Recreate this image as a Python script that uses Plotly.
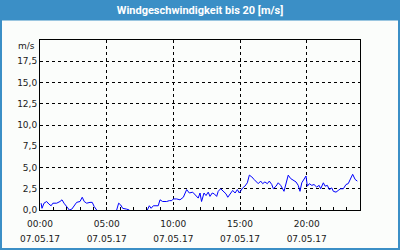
import plotly.graph_objects as go

# ---- data ----
times = ["00:05","00:09","00:18","00:30","00:40","00:50","00:58","01:15","01:30","01:39","01:48","02:00",
         "02:12","02:23","02:34","02:45","03:00","03:10","03:19","03:30","03:45","03:55","04:04","04:15",
         "05:00",
         "05:45","05:54","06:03","06:12","06:30","06:42",
         "07:20",
         "08:03","08:12","08:20","08:30","08:52","09:00","09:12","09:30","09:42","09:53","10:00","10:15",
         "10:30","10:45","11:00","11:12","11:27","11:42","11:52","12:00","12:07","12:18","12:27","12:37",
         "12:45","12:55","13:04","13:15","13:22","13:33","13:45","13:57","14:05","14:15","14:27","14:38",
         "14:48","14:57","15:03","15:12","15:22","15:33","15:42","15:53","16:03","16:12","16:22","16:33",
         "16:42","16:52","17:03","17:12","17:23","17:30","17:42","17:52","18:03","18:18","18:27","18:37",
         "18:48","19:00","19:12","19:22","19:30","19:38","19:48","19:57","20:03","20:12","20:23","20:33",
         "20:45","20:56","21:03","21:15","21:23","21:33","21:42","21:53","22:00","22:12","22:22","22:33",
         "22:45","22:57","23:07","23:18","23:27","23:38","23:48"]
speed = [0.8,0.2,0.8,1.0,0.7,0.5,0.8,0.8,1.0,1.2,0.8,0.4,
         0.0,0.1,0.5,0.9,1.0,1.5,1.0,0.8,0.9,0.9,0.4,0.0,
         None,
         0.0,0.8,0.6,0.2,0.1,0.0,
         None,
         0.0,0.5,0.2,0.5,0.5,1.2,1.0,1.0,1.1,1.1,1.3,1.3,
         1.2,1.5,2.4,2.0,2.1,1.7,1.4,2.0,1.0,2.0,1.7,2.1,
         1.6,2.0,1.9,1.6,2.2,2.5,2.2,1.9,1.5,1.9,2.3,2.0,
         2.4,2.0,2.3,2.6,2.8,3.2,4.1,3.9,3.6,3.4,3.1,3.4,
         3.1,3.3,3.1,3.4,3.0,2.5,2.8,3.2,2.9,2.2,3.0,4.1,
         3.7,3.5,3.3,2.9,2.2,3.2,3.7,4.0,2.8,3.1,2.9,3.0,
         2.7,2.9,2.5,3.2,2.8,2.9,2.4,2.6,2.2,2.1,2.3,2.5,
         2.5,3.0,3.1,3.7,4.2,3.6,3.4]
day = "2017-05-07"
y_ticks = [0, 2.5, 5, 7.5, 10, 12.5, 15, 17.5]
title_text = "Windgeschwindigkeit bis 20 [m/s]"
unit_text = "m/s"

x = [f"{day} {t}" for t in times]

BLUE = "#3b8fc6"
BG = "#fbfdfb"
W, H = 400, 250
L, R, T, B = 40, 40, 40, 40
pw, ph = W - L - R, H - T - B

def px(xp):
    return (xp - L) / pw

def py(yp):
    return (H - B - yp) / ph

fig = go.Figure()
fig.add_trace(go.Scatter(x=x, y=speed, mode="lines", line=dict(color="#0000ff", width=1),
                         connectgaps=False, hoverinfo="skip", showlegend=False))
# second axis only for the date line of the tick labels
fig.add_trace(go.Scatter(x=[f"{day} 00:00"], y=[None], xaxis="x2", showlegend=False, hoverinfo="skip"))

tickfont = dict(family="DejaVu Sans", size=9, color="#1a1a1a")

fig.update_layout(
    width=W, height=H,
    margin=dict(l=L, r=R, t=T, b=B, pad=0, autoexpand=False),
    paper_bgcolor=BG, plot_bgcolor=BG,
    separators=",.",
    showlegend=False,
    title=dict(text="<b>" + title_text + "</b>", x=0.5, xref="container", xanchor="center",
               y=1 - 10.5 / H, yref="container", yanchor="middle",
               font=dict(family="Roboto, DejaVu Sans", size=11, color="white")),
    xaxis=dict(type="date", range=[f"{day} 00:00", "2017-05-08 00:00"],
               tick0=f"{day} 00:00", dtick=5 * 3600000, tickformat="%H:%M",
               showgrid=True, gridcolor="black", gridwidth=1, griddash="3px,3px",
               showline=True, linecolor="black", linewidth=1, mirror=True,
               ticks="inside", ticklen=3, tickcolor="black", tickwidth=1,
               minor=dict(dtick=3600000, tick0=f"{day} 00:00", ticks="inside", ticklen=3,
                          tickcolor="black", showgrid=False),
               ticklabelstandoff=5,
               tickfont=tickfont, zeroline=False, fixedrange=True, automargin=False),
    xaxis2=dict(type="date", overlaying="x", side="bottom", anchor="y",
                range=[f"{day} 00:00", "2017-05-08 00:00"],
                tick0=f"{day} 00:00", dtick=5 * 3600000, tickformat="%d.%m.%y",
                showgrid=False, showline=False, ticks="", ticklabelstandoff=22,
                tickfont=tickfont, zeroline=False, fixedrange=True, automargin=False),
    yaxis=dict(range=[0, 20], tickvals=y_ticks, tickformat=".1f",
               showgrid=True, gridcolor="black", gridwidth=1, griddash="3px,3px",
               showline=True, linecolor="black", linewidth=1, mirror=True,
               ticks="", tickfont=tickfont, zeroline=False, fixedrange=True, automargin=False),
    shapes=[
        dict(type="rect", xref="paper", yref="paper", x0=px(0), x1=px(W), y0=py(20.5), y1=py(0),
             fillcolor=BLUE, line=dict(width=0), layer="below"),
        dict(type="rect", xref="paper", yref="paper", x0=px(1), x1=px(W - 1), y0=py(H - 1), y1=py(1),
             fillcolor="rgba(0,0,0,0)", line=dict(color=BLUE, width=2)),
    ],
    annotations=[
        dict(text=unit_text, xref="paper", yref="y", x=0, y=20, xanchor="right", yanchor="top",
             xshift=-3, yshift=1, showarrow=False, font=tickfont),
    ],
)

fig.write_html("out.html")
